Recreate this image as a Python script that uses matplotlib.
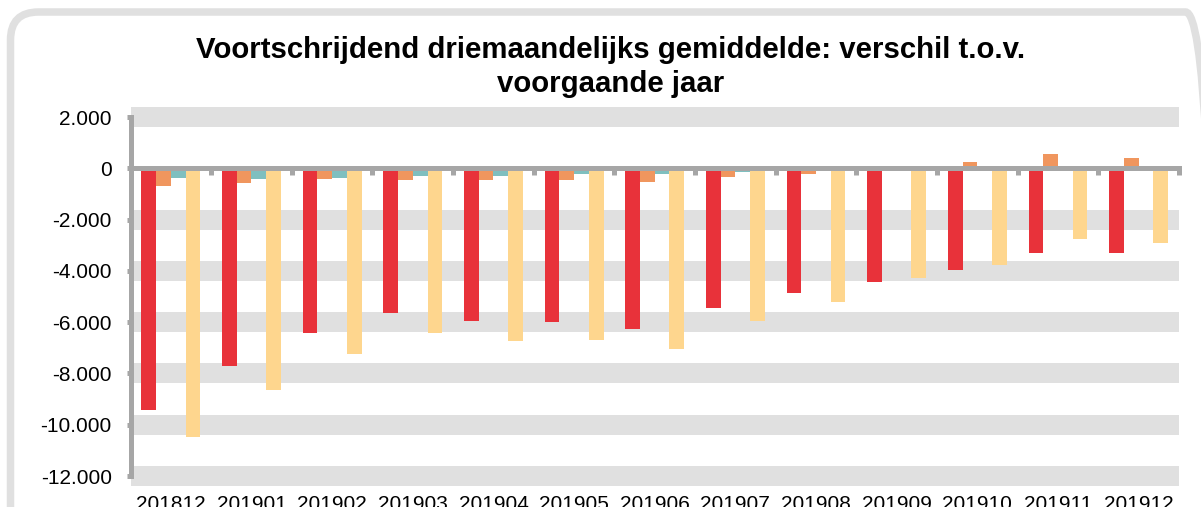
import matplotlib
matplotlib.use('Agg')
import matplotlib.pyplot as plt
import numpy as np
from matplotlib.patches import FancyBboxPatch
from matplotlib.transforms import IdentityTransform
from matplotlib.ticker import FuncFormatter

# ---- data ----
categories = ['201812', '201901', '201902', '201903', '201904', '201905', '201906',
              '201907', '201908', '201909', '201910', '201911', '201912']
series_red = [-9420, -7705, -6405, -5640, -5940, -6000, -6250,
              -5460, -4875, -4434, -3978, -3291, -3320]
series_orange = [-678, -561, -429, -450, -475, -460, -534,
                 -339, -222, 60, 246, 558, 402]
series_teal = [-366, -405, -378, -320, -300, -234, -222,
               -132, -40, 0, 0, 0, 0]
series_yellow = [-10480, -8665, -7225, -6420, -6720, -6715, -7030,
                 -5942, -5201, -4295, -3759, -2745, -2930]
y_ticks = [2000, 0, -2000, -4000, -6000, -8000, -10000, -12000]
title_text = "Voortschrijdend driemaandelijks gemiddelde: verschil t.o.v.\nvoorgaande jaar"

colors = ['#E8323A', '#F0965E', '#7FBFBF', '#FED68E']
grid_color = '#E0E0E0'
axis_color = '#A6A6A6'

plt.rcParams['font.family'] = ['Liberation Sans', 'DejaVu Sans']

W, H = 1201, 507
fig = plt.figure(figsize=(W / 100, H / 100), dpi=100)

# rounded outer frame (partly cut off at right and bottom)
frame = FancyBboxPatch((10.5, -80), 1203, 575,
                       boxstyle='round,pad=0,rounding_size=28',
                       transform=IdentityTransform(),
                       facecolor='none', edgecolor='#E0E0E0', linewidth=5.4)
fig.add_artist(frame)

left_px, right_px, top_px, bottom_px = 130.5, 1179, 117, 476
ax = fig.add_axes([left_px / W, 1 - bottom_px / H,
                   (right_px - left_px) / W, (bottom_px - top_px) / H])

x = np.arange(len(categories))
w = 0.1825
for k, (vals, c) in enumerate(zip([series_red, series_orange, series_teal, series_yellow], colors)):
    ax.bar(x + (k - 1.5) * w, vals, width=w, color=c, zorder=2, linewidth=0)

ax.set_xlim(-0.5, len(categories) - 0.5)
ax.set_ylim(min(y_ticks), max(y_ticks))

# thick banded gridlines
for t in y_ticks:
    if t != 0:
        ax.axhline(t, color=grid_color, lw=14.4, zorder=0, clip_on=False,
                   solid_capstyle='butt')

ax.spines['top'].set_visible(False)
ax.spines['right'].set_visible(False)
ax.spines['left'].set_color(axis_color)
ax.spines['left'].set_linewidth(3.6)
ax.spines['bottom'].set_position(('data', 0))
ax.spines['bottom'].set_color(axis_color)
ax.spines['bottom'].set_linewidth(3.6)
ax.spines['bottom'].set_zorder(3)

ax.set_yticks(y_ticks)
ax.yaxis.set_major_formatter(FuncFormatter(lambda v, p: f"{int(round(v)):,}".replace(',', '.')))
ax.tick_params(axis='y', direction='out', length=3, width=3.6, color=axis_color,
               labelsize=15, pad=10.5, labelcolor='black')

ax.set_xticks(x)
ax.set_xticks(np.arange(len(categories)) + 0.5, minor=True)
ax.tick_params(axis='x', which='major', length=0, labelbottom=False)
ax.tick_params(axis='x', which='minor', direction='out', length=4.7, width=3.6,
               color=axis_color, labelbottom=False)

secax = ax.secondary_xaxis(0.0)
secax.set_xticks(x, labels=categories)
secax.tick_params(length=0, pad=13.5, labelsize=15, labelcolor='black')
for s in secax.spines.values():
    s.set_visible(False)

fig.text(611 / W, 1 - 67 / H, title_text, ha='center', va='center',
         fontsize=21.2, fontweight='bold', linespacing=1.25)

fig.savefig('out.png', dpi=100)
